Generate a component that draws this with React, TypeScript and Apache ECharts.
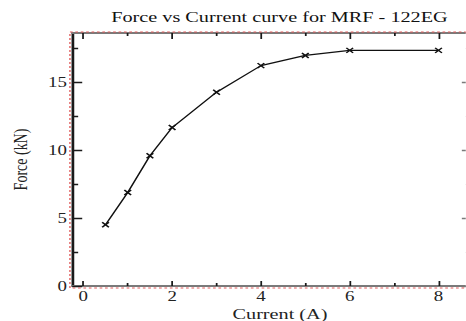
import React, { useEffect, useRef } from "react";
import * as echarts from "echarts";

const currentA: number[] = [0.5, 1, 1.5, 2, 3, 4, 5, 6, 8];
const forceKN: number[] = [4.5, 6.87, 9.58, 11.65, 14.25, 16.2, 16.95, 17.32, 17.32];
const xMajorTicks: number[] = [0, 2, 4, 6, 8];
const xMinorTicks: number[] = [1, 3, 5, 7];
const yMajorTicks: number[] = [0, 5, 10, 15];
const yMinorTicks: number[] = [2.5, 7.5, 12.5, 17.5];

const STRETCH = 1.35;
const FONT = "'Liberation Serif', 'Times New Roman', serif";

export default function App() {
  const ref = useRef<HTMLDivElement>(null);
  useEffect(() => {
    if (!ref.current) return;
    const chart = echarts.init(ref.current, undefined, { renderer: "svg" });
    const xRange = { min: -0.25, max: 8.75 };
    const yRange = { min: 0, max: 18.6 };
    const gray = "#7a7a7a";
    const dark = "#1a1a1a";
    const xAxisBase = (position: string, values: number[], len: number, labels: boolean, lineColor: string, showLine: boolean) => ({
      type: "value",
      position,
      ...xRange,
      splitLine: { show: false },
      axisLine: { show: showLine, onZero: false, lineStyle: { color: lineColor, width: 2 } },
      axisTick: { show: true, inside: true, length: len, customValues: values, lineStyle: { color: dark, width: 1.3 } },
      axisLabel: labels
        ? { show: true, customValues: values, margin: 3, fontFamily: FONT, fontSize: 14, color: "#222" }
        : { show: false },
    });
    const yAxisBase = (position: string, values: number[], len: number, labels: boolean, lineColor: string, showLine: boolean, extra: any = {}) => ({
      type: "value",
      position,
      ...yRange,
      splitLine: { show: false },
      axisLine: { show: showLine, onZero: false, lineStyle: { color: lineColor, width: 2 } },
      axisTick: { show: true, inside: true, length: len, customValues: values, lineStyle: { color: position === "left" ? dark : gray, width: 1.3 } },
      axisLabel: labels
        ? { show: true, customValues: values, margin: 4, fontFamily: FONT, fontSize: 14, color: "#222" }
        : { show: false },
      ...extra,
    });
    chart.setOption({
      animation: false,
      backgroundColor: "#ffffff",
      title: {
        text: "Force vs Current curve for MRF - 122EG",
        left: 202,
        top: 4,
        textAlign: "center",
        textStyle: { fontFamily: FONT, fontSize: 15, fontWeight: "normal", color: "#111" },
      },
      grid: { left: 53.5, top: 33, width: 296, height: 253, containLabel: false, outerBoundsMode: "none" },
      xAxis: [
        xAxisBase("bottom", xMajorTicks, 5, true, gray, true),
        xAxisBase("bottom", xMinorTicks, 3, false, gray, false),
        xAxisBase("top", xMajorTicks, 6, false, gray, true),
        xAxisBase("top", xMinorTicks, 3, false, gray, false),
      ],
      yAxis: [
        yAxisBase("left", yMajorTicks, 7.4, true, dark, true, {
          name: "Force (kN)",
          nameLocation: "middle",
          nameGap: 31,
          nameRotate: 90,
          nameTextStyle: { fontFamily: FONT, fontSize: 14, color: "#222" },
        }),
        yAxisBase("left", yMinorTicks, 4.4, false, dark, false),
        yAxisBase("right", yMajorTicks, 7.4, false, gray, true),
        yAxisBase("right", yMinorTicks, 4.4, false, gray, false),
      ],
      graphic: [
        {
          type: "rect",
          silent: true,
          z: 100,
          shape: { x: 51.8, y: 32, width: 320, height: 256 },
          style: { fill: "none", stroke: "#e05a5a", lineWidth: 1, lineDash: [2, 2] },
        },
        {
          type: "text",
          x: 207.4,
          y: 314,
          style: {
            text: "Current (A)",
            fontFamily: FONT,
            fontSize: 15,
            fill: "#222",
            textAlign: "center",
            textVerticalAlign: "middle",
          },
        },
      ],
      series: [
        {
          type: "line",
          xAxisIndex: 0,
          yAxisIndex: 0,
          data: currentA.map((x, i) => [x, forceKN[i]]),
          lineStyle: { color: "#111", width: 1.2 },
          symbol: "path://M0,0L10,10M0,10L10,0",
          symbolSize: [5, 5],
          showSymbol: true,
          itemStyle: { color: "#111", borderColor: "#111", borderWidth: 1.3 },
          emphasis: { disabled: true },
        },
      ],
    });
    return () => chart.dispose();
  }, []);
  return (
    <div
      ref={ref}
      style={{
        position: "fixed",
        left: 0,
        top: 0,
        width: 466 / STRETCH,
        height: 321,
        transformOrigin: "0 0",
        transform: `scaleX(${STRETCH})`,
        background: "#fff",
      }}
    />
  );
}
